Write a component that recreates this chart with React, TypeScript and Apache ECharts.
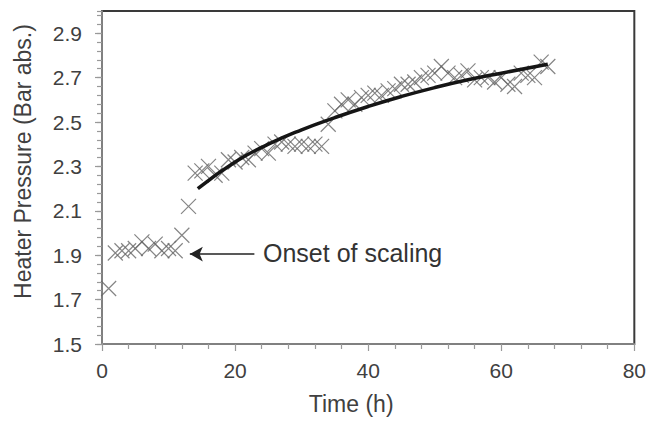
import React, { useEffect, useRef } from "react";
import * as echarts from "echarts";

// Measured pressure (time h, pressure bar abs.)
const timeH: number[] = [1, 2, 3, 4, 5, 6, 7, 8, 9, 10, 11, 12, 13, 14, 15, 16, 17, 18, 19, 20, 21, 22, 23, 24, 25, 26, 27, 28, 29, 30, 31, 32, 33, 34, 35, 36, 37, 38, 39, 40, 41, 42, 43, 44, 45, 46, 47, 48, 49, 50, 51, 52, 53, 54, 55, 56, 57, 58, 59, 60, 61, 62, 63, 64, 65, 66, 67];
const pressure: number[] = [1.75, 1.91, 1.92, 1.92, 1.93, 1.96, 1.93, 1.95, 1.92, 1.93, 1.92, 1.99, 2.12, 2.27, 2.28, 2.3, 2.26, 2.27, 2.33, 2.32, 2.34, 2.33, 2.36, 2.38, 2.36, 2.4, 2.41, 2.4, 2.39, 2.4, 2.39, 2.4, 2.39, 2.49, 2.55, 2.58, 2.6, 2.58, 2.61, 2.62, 2.63, 2.62, 2.64, 2.65, 2.67, 2.67, 2.68, 2.7, 2.71, 2.72, 2.75, 2.72, 2.7, 2.71, 2.73, 2.69, 2.7, 2.7, 2.68, 2.7, 2.67, 2.66, 2.72, 2.71, 2.7, 2.77, 2.75];

// Trend curve
const trendT: number[] = [14.4, 20, 25, 30, 35, 40, 45, 50, 55, 60, 67];
const trendP: number[] = [2.2, 2.32, 2.4, 2.465, 2.52, 2.57, 2.615, 2.655, 2.69, 2.72, 2.76];

// Annotation
const arrowFrom: number[] = [22.9, 1.905];
const arrowTo: number[] = [13.2, 1.905];
const annotationText = "Onset of scaling";

const xTicks = { min: 0, max: 80, interval: 20 };
const yTicks = { min: 1.5, max: 3.0, interval: 0.2, minor: 0.04 };

const FONT = "Liberation Sans, Arial, sans-serif";
const TXT = "#404040";

export default function App() {
  const ref = useRef<HTMLDivElement>(null);
  useEffect(() => {
    if (!ref.current) return;
    const chart = echarts.init(ref.current, undefined, { renderer: "svg" });
    const option: any = {
      animation: false,
      grid: {
        left: 102,
        right: 13,
        top: 11,
        bottom: 79,
        show: true,
        borderColor: "#3a3a3a",
        borderWidth: 2,
        backgroundColor: "transparent",
      },
      xAxis: {
        type: "value",
        min: xTicks.min,
        max: xTicks.max,
        interval: xTicks.interval,
        name: "Time (h)",
        nameLocation: "middle",
        nameGap: 48,
        nameTextStyle: { fontFamily: FONT, fontSize: 23, color: TXT, padding: [0, 34, 0, 0] },
        axisLine: { lineStyle: { color: "#999", width: 1.5 } },
        axisTick: { length: 7, lineStyle: { color: "#999", width: 1.2 } },
        minorTick: { show: true, splitNumber: 5, length: 5, lineStyle: { color: "#999", width: 1.2 } },
        splitLine: { show: false },
        axisLabel: { fontFamily: FONT, fontSize: 21, color: TXT, margin: 16 },
      },
      yAxis: [
        {
          type: "value",
          min: yTicks.min,
          max: yTicks.max,
          interval: yTicks.interval,
          name: "Heater Pressure (Bar abs.)",
          nameLocation: "middle",
          nameGap: 68,
          nameTextStyle: { fontFamily: FONT, fontSize: 23, color: TXT, padding: [0, 0, 0, 32] },
          axisLine: { show: true, lineStyle: { color: "#999", width: 1.5 } },
          axisTick: { show: true, length: 7, lineStyle: { color: "#999", width: 1.2 } },
          splitLine: { show: false },
          axisLabel: {
            fontFamily: FONT,
            fontSize: 21,
            color: TXT,
            margin: 20,
            showMaxLabel: false,
            formatter: (v: number) => v.toFixed(1),
          },
        },
        {
          type: "value",
          min: yTicks.min,
          max: yTicks.max,
          interval: yTicks.minor,
          position: "left",
          axisLine: { show: false },
          axisTick: { show: true, length: 5, lineStyle: { color: "#999", width: 1.2 } },
          axisLabel: { show: false },
          splitLine: { show: false },
        },
      ],
      series: [
        {
          type: "scatter",
          data: timeH.map((t, i) => [t, pressure[i]]),
          symbol: "path://M0 0L10 10M10 0L0 10",
          symbolSize: 15,
          itemStyle: { color: "transparent", borderColor: "#666", borderWidth: 1.2 },
          z: 3,
        },
        {
          type: "line",
          data: trendT.map((t, i) => [t, trendP[i]]),
          smooth: true,
          showSymbol: false,
          lineStyle: { color: "#151515", width: 3.5 },
          z: 4,
          markLine: {
            silent: true,
            symbol: ["none", "arrow"],
            symbolSize: [11, 13],
            label: { show: false },
            lineStyle: { color: "#222", width: 1.5, type: "solid" },
            data: [[{ coord: arrowFrom }, { coord: arrowTo }]],
          },
        },
      ],
      graphic: [
        {
          type: "text",
          left: 263,
          top: 240,
          style: { text: annotationText, fontFamily: FONT, fontSize: 25, fill: "#333" },
        },
      ],
    };
    chart.setOption(option);
    return () => chart.dispose();
  }, []);
  return (
    <div
      ref={ref}
      style={{ position: "fixed", left: 0, top: 0, width: 649, height: 423, background: "#fff" }}
    />
  );
}
